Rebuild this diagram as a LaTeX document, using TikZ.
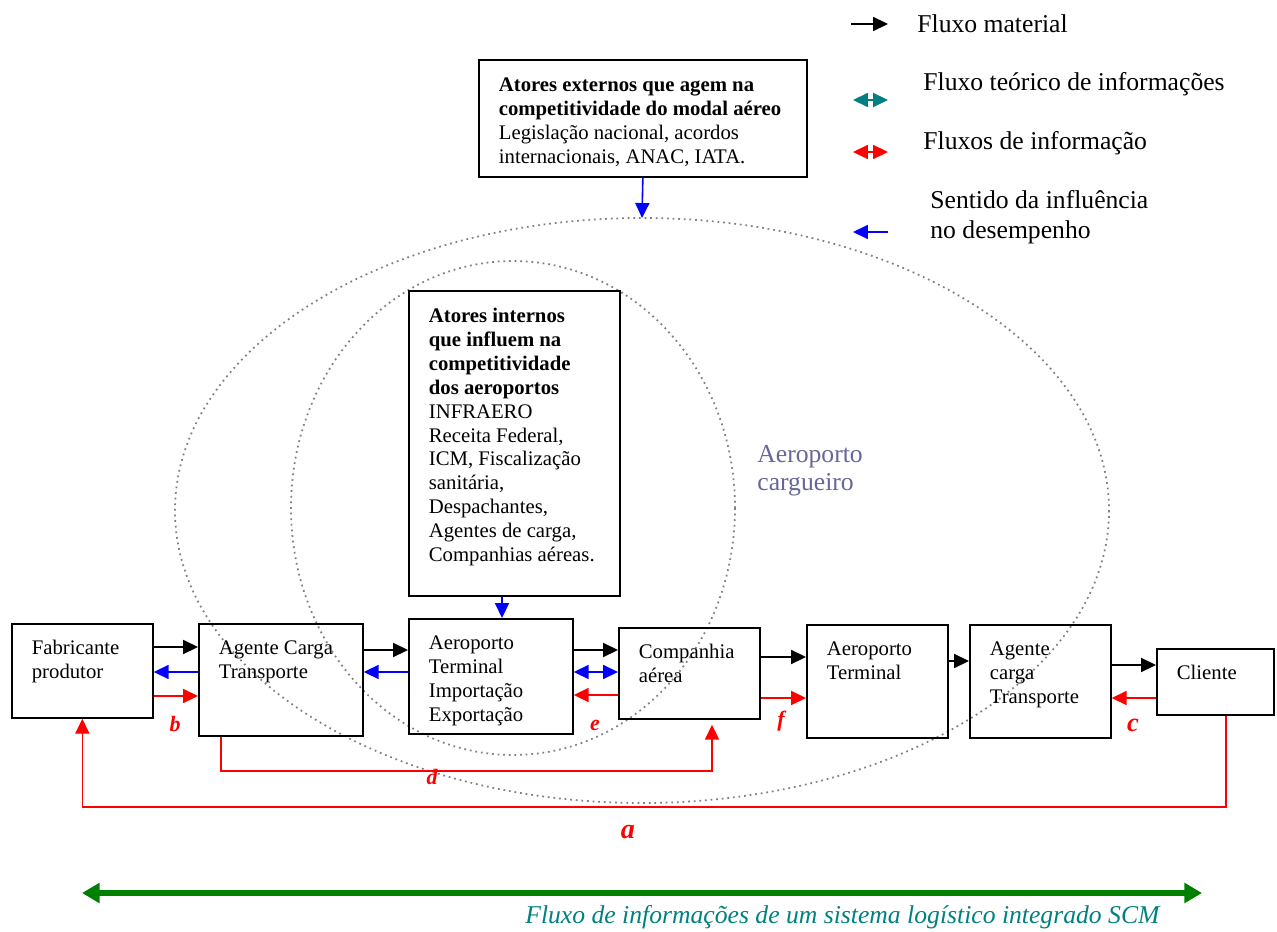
\documentclass[tikz,border=0pt]{standalone}
\usepackage{fontspec}
\setmainfont{Liberation Serif}
\usetikzlibrary{arrows.meta, calc}
\definecolor{flowteal}{RGB}{0,128,128}
\definecolor{scmgreen}{RGB}{0,128,0}
\definecolor{cargoblue}{RGB}{102,102,153}
\definecolor{zonegray}{RGB}{128,128,128}
\newcommand{\boxfont}{\fontsize{11.8}{13.6}\selectfont}
\newcommand{\legfont}{\fontsize{14.6}{17}\selectfont}
\newcommand{\cell}[3]{\parbox[t][#2][t]{#1}{\begin{tabular}[t]{@{}l@{}}#3\end{tabular}}}

\begin{document}
\begin{tikzpicture}[
    x=0.02cm, y=-0.02cm,
    >={Triangle[length=8.5pt,width=8pt]},
    stage/.style={draw, line width=1pt, anchor=north west, inner xsep=0.4cm, inner ysep=0.28cm, font=\boxfont},
    matflow/.style={->, line width=0.9pt, black},
    infoflow/.style={->, line width=0.9pt, red},
    influence/.style={->, line width=0.9pt, blue},
    zone/.style={draw=zonegray, line width=1pt, dash pattern=on 1pt off 2.2pt},
    letter/.style={text=red, font=\fontsize{12.5}{14}\selectfont\bfseries\itshape},
    legend/.style={anchor=west, align=left, inner sep=0pt, font=\legfont}
  ]
    \useasboundingbox (0,0) rectangle (1277,932);

    % Zones
    \draw[zone] (642,510.5) ellipse [x radius=467, y radius=292.5];
    \draw[zone] (513,508) ellipse [x radius=222, y radius=247];
    \coordinate (outertop) at (642,218);
    \node[legend, text=cargoblue, font=\fontsize{14.6}{16}\selectfont] (cargo) at (757,471) {Aeroporto\\cargueiro};

    % Actors
    \node[stage, inner ysep=0.3cm] (ext) at (478,59) {\cell{5.76cm}{1.74cm}{\textbf{Atores externos que agem na}\\ \textbf{competitividade do modal aéreo}\\ Legislação nacional, acordos\\ internacionais, ANAC, IATA.}};
    \node[stage, inner ysep=0.3cm] (intern) at (408,290) {\cell{3.42cm}{5.5cm}{\textbf{Atores internos}\\ \textbf{que influem na}\\ \textbf{competitividade}\\ \textbf{dos aeroportos}\\ INFRAERO\\ Receita Federal,\\ ICM, Fiscalização\\ sanitária,\\ Despachantes,\\ Agentes de carga,\\ Companhias aéreas.}};

    % Chain
    \node[stage] (fab) at (11,623) {\cell{2.02cm}{1.32cm}{Fabricante\\ produtor}};
    \node[stage] (agente) at (198,623) {\cell{2.48cm}{1.68cm}{Agente Carga\\ Transporte}};
    \node[stage] (aeroterm) at (408,618) {\cell{2.48cm}{1.74cm}{Aeroporto\\ Terminal\\ Importação\\ Exportação}};
    \node[stage] (comp) at (618,627) {\cell{2.02cm}{1.26cm}{Companhia\\ aérea}};
    \node[stage] (aeroterm2) at (806,624) {\cell{2.02cm}{1.7cm}{Aeroporto\\ Terminal}};
    \node[stage] (agente2) at (969,624) {\cell{2.02cm}{1.7cm}{Agente\\ carga\\ Transporte}};
    \node[stage] (cliente) at (1156,648) {\cell{1.54cm}{0.76cm}{Cliente}};

    % Material flow
    \draw[matflow] (fab.east |- 0,647) -- (agente.west |- 0,647);
    \draw[matflow] (agente.east |- 0,650) -- (aeroterm.west |- 0,650);
    \draw[matflow] (aeroterm.east |- 0,650) -- (comp.west |- 0,650);
    \draw[matflow] (comp.east |- 0,657) -- (aeroterm2.west |- 0,657);
    \draw[matflow] (aeroterm2.east |- 0,661) -- (agente2.west |- 0,661);
    \draw[matflow] (agente2.east |- 0,665) -- (cliente.west |- 0,665);

    % Influence
    \draw[influence] (ext.south) -- (outertop);
    \draw[influence] (intern.south -| 502,0) -- (aeroterm.north -| 502,0);
    \draw[influence] (agente.west |- 0,672) -- (fab.east |- 0,672);
    \draw[influence] (aeroterm.west |- 0,672) -- (agente.east |- 0,672);
    \draw[influence, <->] (aeroterm.east |- 0,672) -- (comp.west |- 0,672);

    % Information
    \draw[infoflow] (fab.east |- 0,696) -- (agente.west |- 0,696);
    \draw[infoflow] (comp.west |- 0,695) -- (aeroterm.east |- 0,695);
    \draw[infoflow] (comp.east |- 0,698) -- (aeroterm2.west |- 0,698);
    \draw[infoflow] (cliente.west |- 0,698) -- (agente2.east |- 0,698);
    \draw[infoflow] (agente.south -| 221,0) -- ++(0,34) -| ($(comp.south -| 712,0)+(0,5)$);
    \draw[infoflow] (cliente.south -| 1226,0) -- ++(0,91) -| (fab.south);

    \node[letter] (lb) at (175,724) {b};
    \node[letter] (le) at (595,725) {e};
    \node[letter] (lf) at (781,721) {f};
    \node[letter] (ld) at (432,777) {d};
    \node[letter, font=\fontsize{15}{17}\selectfont\bfseries\itshape] (lc) at (1133,725) {c};
    \node[letter, font=\fontsize{16}{18}\selectfont\bfseries\itshape] (la) at (628,832) {a};

    % Legend
    \coordinate (k1a) at (851,24);
    \coordinate (k1b) at (888,24);
    \coordinate (k2a) at (853,100);
    \coordinate (k2b) at (888,100);
    \coordinate (k3a) at (853,152);
    \coordinate (k3b) at (888,152);
    \coordinate (k4a) at (888,232);
    \coordinate (k4b) at (853,232);
    \draw[matflow] (k1a) -- (k1b);
    \draw[<->, line width=0.9pt, flowteal] (k2a) -- (k2b);
    \draw[<->, line width=0.9pt, red] (k3a) -- (k3b);
    \draw[influence] (k4a) -- (k4b);
    \node[legend] (k1) at (917,24) {Fluxo material};
    \node[legend] (k2) at (923,84) {Fluxo teórico de informações};
    \node[legend] (k3) at (923,143) {Fluxos de informação};
    \node[legend] (k4) at (930,217) {Sentido da influência\\no desempenho};

    % SCM
    \coordinate (scmL) at (82,893);
    \coordinate (scmR) at (1202,893);
    \draw[scmgreen, line width=3.4pt, {Triangle[length=10pt,width=11pt]}-{Triangle[length=10pt,width=11pt]}] (scmL) -- (scmR);
    \node[legend, text=flowteal, font=\legfont\itshape] (scm) at (525,917) {Fluxo de informações de um sistema logístico integrado SCM};
  \end{tikzpicture}
\end{document}
